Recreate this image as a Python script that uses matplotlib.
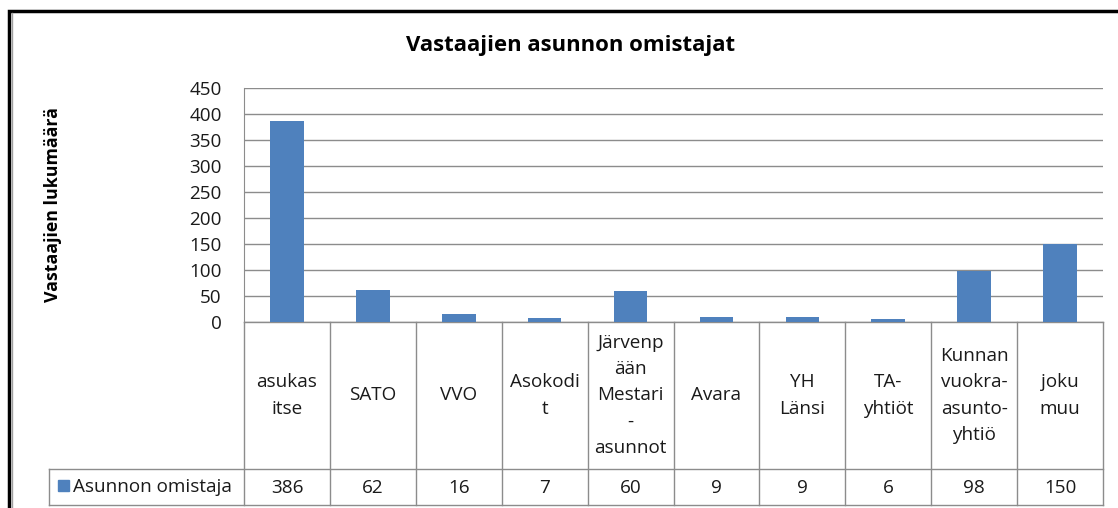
import matplotlib
matplotlib.use("Agg")
from matplotlib import pyplot as plt
from matplotlib.transforms import blended_transform_factory
import numpy as np

categories = ["asukas\nitse", "SATO", "VVO", "Asokodi\nt", "Järvenp\nään\nMestari\n-\nasunnot",
              "Avara", "YH\nLänsi", "TA-\nyhtiöt", "Kunnan\nvuokra-\nasunto-\nyhtiö", "joku\nmuu"]
values = [386, 62, 16, 7, 60, 9, 9, 6, 98, 150]
series_name = "Asunnon omistaja"
title = "Vastaajien asunnon omistajat"
ylabel = "Vastaajien lukumäärä"
yticks = np.arange(0, 451, 50)

plt.rcParams['font.family'] = ['Open Sans', 'DejaVu Sans']
bar_color = '#4F81BD'
line_gray = '#8C8C8C'
txt_color = '#1a1a1a'
txt = 13.6

W, H = 1118, 508
fig = plt.figure(figsize=(W / 100, H / 100), dpi=100)

# background axes in pixel coordinates for frame, title, table
bg = fig.add_axes([0, 0, 1, 1])
bg.set_xlim(0, W)
bg.set_ylim(H, 0)
bg.axis('off')

# outer chart frame (runs off the picture to the right and bottom)
bg.plot([9, 9, W + 5], [H + 5, 11, 11], color='black', lw=2.5, solid_joinstyle='miter')
bg.plot([11.5, 11.5], [13, H + 5], color='#A0A0A0', lw=1)

# plot area
pl, pr, pt, pb = 244, 1103, 88, 322
ax = fig.add_axes([pl / W, (H - pb) / H, (pr - pl) / W, (pb - pt) / H])
x = np.arange(len(values))
ax.bar(x, values, width=0.39, color=bar_color, zorder=3)
ax.set_xlim(-0.5, len(values) - 0.5)
ax.set_ylim(0, 450)
ax.set_yticks(yticks)
ax.set_yticklabels([str(v) for v in yticks], fontsize=txt, color=txt_color)
ax.tick_params(axis='y', length=0, pad=16)
ax.set_xticks([])
ax.grid(axis='y', color=line_gray, lw=1, zorder=0)
for s in ['top', 'right', 'bottom']:
    ax.spines[s].set_visible(False)
ax.spines['left'].set_color(line_gray)
ax.patch.set_alpha(0)

bg.text(571, 46, title, ha='center', va='center', fontsize=15.9, fontweight='bold')
bg.text(53, 205, ylabel, ha='center', va='center', rotation=90, fontsize=12.8, fontweight='bold')

# data table under the plot
tr = blended_transform_factory(ax.transData, bg.transData)
row1, row2, row3 = pb, 469, 505
edges = np.arange(len(values) + 1) - 0.5
for e in edges:
    bg.plot([e, e], [row1, row3], color=line_gray, lw=1, transform=tr, clip_on=False)
bg.plot([49, pr], [row2, row2], color=line_gray, lw=1, clip_on=False)
bg.plot([49, pr], [row3, row3], color=line_gray, lw=1, clip_on=False)
bg.plot([49, 49], [row2, row3], color=line_gray, lw=1, clip_on=False)
bg.plot([pl, pr], [row1, row1], color=line_gray, lw=1, clip_on=False)

for i, (c, v) in enumerate(zip(categories, values)):
    bg.text(i, (row1 + row2) / 2, c, ha='center', va='center', fontsize=txt,
            linespacing=1.6, transform=tr, color=txt_color)
    bg.text(i, (row2 + row3) / 2 + 1, str(v), ha='center', va='center', fontsize=txt,
            transform=tr, color=txt_color)

bg.add_patch(plt.Rectangle((58, 480), 11, 11, color=bar_color))
bg.text(73, 487, series_name, ha='left', va='center', fontsize=txt, color=txt_color)

fig.savefig('out.png', dpi=100, facecolor='white')
